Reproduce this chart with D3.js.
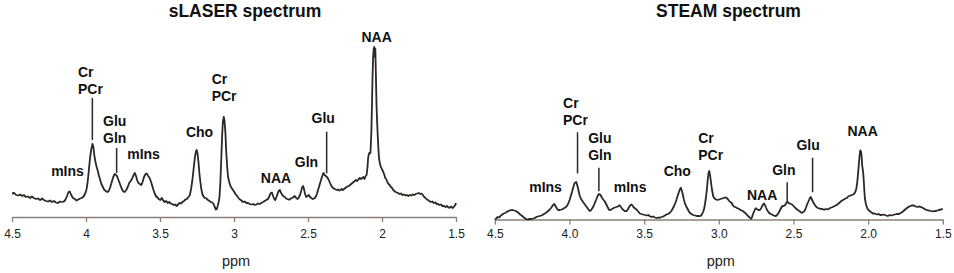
<!DOCTYPE html>
<html><head><meta charset="utf-8">
<script src="https://cdn.jsdelivr.net/npm/d3@7"></script>
<style>body{margin:0;background:#fff}svg{display:block}</style>
</head><body><svg id="c" width="954" height="273"></svg>
<script>
// ---------------- data ----------------
const ppmTicks = [4.5, 4, 3.5, 3, 2.5, 2, 1.5];
const titles = ["sLASER spectrum", "STEAM spectrum"];
const axisTitle = "ppm";

// [ppm, intensity (a.u.)]
const slaser = [[4.500,23.5],[4.485,24],[4.472,22],[4.459,21.5],[4.445,22.5],[4.432,21],[4.420,22],[4.406,20],[4.392,20.5],[4.378,19],[4.365,20.5],[4.352,19],[4.338,18],[4.324,18.5],[4.310,17],[4.297,18.5],[4.284,17],[4.270,16],[4.257,15.5],[4.243,16.5],[4.230,15],[4.216,16],[4.203,14.5],[4.189,14],[4.176,15.5],[4.162,15],[4.150,15.5],[4.140,17],[4.128,21],[4.118,25],[4.110,25.5],[4.100,22],[4.088,19],[4.076,18],[4.064,16.5],[4.052,17.5],[4.040,18.5],[4.028,19],[4.014,21],[4.004,24],[3.996,28],[3.988,36],[3.980,48],[3.972,60],[3.964,68],[3.956,73],[3.950,70],[3.944,62],[3.936,55],[3.928,50],[3.920,46],[3.912,41],[3.904,37],[3.896,33],[3.886,30],[3.876,27],[3.866,26],[3.856,25],[3.846,26],[3.836,30],[3.826,35],[3.816,40],[3.806,43],[3.798,42.5],[3.788,40],[3.778,36],[3.768,32],[3.758,28],[3.748,25.5],[3.738,25],[3.728,27],[3.718,30],[3.708,34],[3.698,36],[3.688,38.5],[3.678,42],[3.670,44],[3.662,41],[3.655,37],[3.646,34],[3.636,33],[3.626,32],[3.618,35],[3.608,40],[3.598,43],[3.590,43.5],[3.580,41],[3.570,39],[3.560,35],[3.552,31],[3.544,27],[3.536,23.5],[3.528,21],[3.518,19.5],[3.508,18],[3.498,17],[3.488,19],[3.478,16.5],[3.468,15],[3.458,16],[3.448,14],[3.438,15],[3.428,13.5],[3.418,13],[3.408,12],[3.398,12.5],[3.388,11],[3.378,12.5],[3.368,14],[3.358,13.5],[3.348,15],[3.338,16],[3.328,17.5],[3.318,18],[3.308,20],[3.298,22],[3.290,28],[3.282,36],[3.276,44],[3.270,52],[3.263,61],[3.256,66],[3.252,67],[3.246,63],[3.240,55],[3.234,44],[3.228,36],[3.222,29],[3.214,23],[3.206,20.5],[3.196,19],[3.186,18.5],[3.176,17],[3.166,16],[3.156,15],[3.146,14.5],[3.138,13],[3.130,10],[3.122,7.5],[3.116,8],[3.110,11],[3.104,15],[3.098,20],[3.092,35],[3.086,58],[3.080,82],[3.075,95],[3.069,100],[3.064,96],[3.058,84],[3.052,64],[3.046,50],[3.040,40],[3.032,35],[3.024,31],[3.016,29],[3.007,27],[2.998,25],[2.990,23],[2.984,22],[2.972,19.5],[2.960,17.5],[2.950,16.5],[2.939,15],[2.928,15.5],[2.916,14],[2.905,14],[2.894,13],[2.882,12.5],[2.870,13],[2.860,12],[2.849,12.5],[2.838,13.5],[2.826,13],[2.816,14],[2.804,15],[2.793,16],[2.782,17],[2.770,18],[2.760,21],[2.752,24],[2.744,24.5],[2.736,21],[2.728,18],[2.721,17],[2.713,20],[2.704,24],[2.696,26.5],[2.690,27],[2.682,24],[2.673,22],[2.665,20.5],[2.657,20],[2.648,18.5],[2.640,18],[2.632,17.5],[2.624,17.5],[2.616,18.5],[2.607,19],[2.598,20],[2.590,21],[2.580,19],[2.570,18],[2.562,19.5],[2.554,22],[2.546,26],[2.539,30],[2.533,31],[2.527,28],[2.520,23],[2.512,20],[2.503,21],[2.494,22],[2.486,20],[2.478,19],[2.468,18],[2.458,18.5],[2.448,20],[2.440,23],[2.432,27],[2.424,31],[2.416,35],[2.408,39],[2.400,42.5],[2.394,44],[2.388,42],[2.380,41],[2.372,40],[2.363,38],[2.354,35],[2.345,32],[2.337,30],[2.330,29],[2.320,28],[2.312,27.5],[2.304,27],[2.296,27.5],[2.288,26.5],[2.280,27],[2.272,28],[2.264,27],[2.256,28],[2.248,29],[2.240,30],[2.232,30.5],[2.224,31],[2.216,32],[2.208,33],[2.200,34],[2.192,35],[2.184,36],[2.176,37],[2.168,36],[2.160,37.5],[2.150,39],[2.142,38],[2.134,39],[2.126,40],[2.118,38],[2.110,41],[2.104,42],[2.098,50],[2.093,60],[2.086,64],[2.078,64],[2.072,85],[2.068,110],[2.064,140],[2.060,160],[2.056,168],[2.052,170],[2.048,160],[2.045,168],[2.041,140],[2.037,112],[2.033,95],[2.029,82],[2.025,70],[2.021,60],[2.016,55],[2.010,51],[2.004,49],[1.998,47],[1.991,45],[1.984,42],[1.978,39],[1.972,38],[1.964,35],[1.956,33],[1.948,32],[1.940,30],[1.932,29],[1.924,27],[1.916,26],[1.908,25],[1.900,24.5],[1.892,24],[1.882,23],[1.872,23.5],[1.862,22],[1.852,22.5],[1.842,21.5],[1.832,22],[1.822,21],[1.812,22],[1.802,21.5],[1.792,22.5],[1.782,22],[1.772,23],[1.762,23.5],[1.752,24],[1.742,23],[1.733,23.5],[1.724,22],[1.715,20],[1.706,19],[1.697,17.5],[1.689,17],[1.680,16],[1.670,15],[1.660,15.5],[1.650,14],[1.640,14.5],[1.630,13],[1.622,13],[1.612,12],[1.602,12.5],[1.592,11],[1.581,11],[1.571,10],[1.561,11],[1.551,9.5],[1.541,9.5],[1.532,10.5],[1.524,9],[1.515,10],[1.508,11.5],[1.502,13],[1.500,14]];

const steam = [[4.500,0],[4.490,1],[4.480,2.5],[4.470,2],[4.460,4],[4.450,5],[4.440,6],[4.430,6.5],[4.420,7.5],[4.410,8.5],[4.400,9],[4.390,9.3],[4.380,9.5],[4.370,9],[4.360,8.5],[4.350,7.5],[4.340,6.5],[4.330,5],[4.320,4],[4.310,2.5],[4.300,1.5],[4.292,0.5],[4.280,0],[4.266,0.5],[4.255,0.5],[4.243,1],[4.232,1.5],[4.222,2.5],[4.212,3],[4.200,3.5],[4.187,4],[4.176,5],[4.165,6],[4.155,7],[4.143,8.5],[4.132,10],[4.121,12],[4.110,14.5],[4.101,15.5],[4.092,13],[4.084,11],[4.076,9.5],[4.064,9.5],[4.051,10],[4.040,11],[4.031,11.7],[4.020,13],[4.011,15],[4.004,17.5],[3.998,20],[3.990,24],[3.982,28],[3.975,32],[3.968,35.5],[3.962,37],[3.955,37.5],[3.949,35],[3.944,32],[3.938,28],[3.931,23.5],[3.922,20.5],[3.911,18],[3.904,16.5],[3.897,15],[3.887,13],[3.877,11],[3.870,9.5],[3.864,8.5],[3.855,9.5],[3.844,12],[3.837,14],[3.830,16.7],[3.822,19.5],[3.813,23],[3.806,25],[3.800,25.5],[3.792,24.5],[3.783,22],[3.774,20],[3.763,18],[3.753,15],[3.743,12],[3.736,10],[3.730,9.3],[3.720,10],[3.710,11],[3.703,11.5],[3.696,12],[3.686,12.5],[3.676,13],[3.668,14],[3.663,14],[3.653,12],[3.643,10],[3.630,8.5],[3.618,8.3],[3.610,10],[3.602,12],[3.594,14],[3.584,15],[3.576,13.5],[3.569,12],[3.560,11],[3.551,10],[3.540,8],[3.529,6],[3.518,5.5],[3.507,5],[3.495,4.5],[3.482,4],[3.472,4.5],[3.462,3.3],[3.450,2.5],[3.439,3],[3.428,2],[3.416,1.5],[3.405,2],[3.395,1.7],[3.383,2.5],[3.372,3],[3.361,4],[3.350,5],[3.340,5.5],[3.328,6.7],[3.318,8.5],[3.308,11],[3.298,14],[3.290,17],[3.283,20],[3.275,24],[3.268,27],[3.261,30],[3.254,31.7],[3.248,29],[3.241,25],[3.234,20],[3.228,16.7],[3.218,13],[3.207,10],[3.200,8],[3.194,6.7],[3.184,5.5],[3.172,4.5],[3.160,4],[3.148,3.5],[3.138,3.5],[3.127,3.3],[3.118,4],[3.110,6],[3.104,8],[3.098,11],[3.093,15],[3.086,22],[3.080,30],[3.074,40],[3.068,47],[3.064,48.5],[3.058,44],[3.053,38],[3.046,30],[3.037,23],[3.028,21],[3.019,20],[3.008,19.5],[2.998,20],[2.988,20.5],[2.978,21],[2.968,21.5],[2.958,22],[2.948,21.7],[2.940,20.5],[2.933,19],[2.924,17.5],[2.915,16.7],[2.907,14.5],[2.899,13],[2.890,12.5],[2.881,11.7],[2.870,11],[2.859,10],[2.848,9],[2.837,8.3],[2.828,7],[2.819,6],[2.811,4.5],[2.803,3.3],[2.793,2],[2.785,0.7],[2.778,2],[2.772,5],[2.764,8],[2.755,11],[2.748,11],[2.742,10],[2.734,9.5],[2.725,9.5],[2.717,11],[2.711,13],[2.704,15],[2.698,16],[2.691,14.5],[2.684,12],[2.675,9],[2.664,6.7],[2.654,5.5],[2.644,5],[2.632,4],[2.620,3.3],[2.610,4.5],[2.598,7],[2.588,10],[2.576,13.3],[2.567,13.5],[2.558,14],[2.550,16],[2.542,17.7],[2.535,17],[2.527,16],[2.518,15.5],[2.509,15],[2.500,13.5],[2.491,12],[2.483,11],[2.475,10],[2.466,9],[2.457,8],[2.449,7],[2.442,6.7],[2.433,7.5],[2.424,9],[2.416,12],[2.409,15],[2.403,17],[2.397,19],[2.391,21],[2.385,22.5],[2.378,20.5],[2.370,18],[2.361,15.5],[2.351,13.3],[2.343,12],[2.336,11.5],[2.327,11],[2.318,10.7],[2.309,10.5],[2.300,10],[2.290,10],[2.281,10.5],[2.272,10],[2.263,10.7],[2.254,11.5],[2.245,12],[2.236,12.5],[2.226,13.5],[2.216,14],[2.207,15],[2.198,16],[2.190,17],[2.183,18],[2.175,19],[2.168,19.5],[2.162,20],[2.152,21],[2.142,21.5],[2.134,23],[2.126,23.5],[2.118,24],[2.110,24.5],[2.100,25],[2.092,26],[2.084,28.3],[2.079,31],[2.075,35],[2.071,40],[2.067,46.7],[2.062,56],[2.057,64],[2.053,69],[2.050,67],[2.047,68],[2.043,62],[2.040,54],[2.036,50],[2.033,46.7],[2.029,38],[2.025,28],[2.022,22],[2.017,17],[2.012,14],[2.005,11],[1.998,9.5],[1.988,8.3],[1.978,7],[1.968,6],[1.958,6],[1.949,5.5],[1.940,5],[1.930,5.5],[1.920,4.5],[1.908,4.5],[1.895,5],[1.881,4],[1.868,3.5],[1.856,4.5],[1.845,4],[1.833,4.5],[1.821,5],[1.808,5.5],[1.794,5.5],[1.781,6.5],[1.767,8],[1.752,10],[1.738,11.7],[1.724,13],[1.709,14],[1.694,14],[1.682,13],[1.670,12.5],[1.659,13],[1.649,12.7],[1.638,12],[1.627,11],[1.616,10],[1.604,9.3],[1.592,9],[1.580,8.5],[1.568,8],[1.558,8.5],[1.548,8.3],[1.537,9],[1.526,9.5],[1.512,10],[1.500,10.7]];

// peak labels: text lines, anchor ppm, baseline intensity of first line
const slaserLabels = [
  {lines:["mIns"], ppm:4.125, h:41, anchor:"middle"},
  {lines:["Cr","PCr"], ppm:4.054, h:139.7, anchor:"start"},
  {lines:["Glu","Gln"], ppm:3.885, h:91, anchor:"start"},
  {lines:["mIns"], ppm:3.611, h:57.7, anchor:"middle"},
  {lines:["Cho"], ppm:3.233, h:80.3, anchor:"middle"},
  {lines:["Cr","PCr"], ppm:3.151, h:132.7, anchor:"start"},
  {lines:["NAA"], ppm:2.716, h:33.7, anchor:"middle"},
  {lines:["Gln"], ppm:2.510, h:50.3, anchor:"middle"},
  {lines:["Glu"], ppm:2.397, h:94.3, anchor:"middle"},
  {lines:["NAA"], ppm:2.036, h:175.3, anchor:"middle"}
];
const slaserLeaders = [
  {ppm:3.957, top:119, bottom:77},
  {ppm:3.793, top:69, bottom:44},
  {ppm:2.374, top:85.3, bottom:43.7}
];
const steamLabels = [
  {lines:["mIns"], ppm:4.160, h:27.3, anchor:"middle"},
  {lines:["Cr","PCr"], ppm:4.043, h:111.7, anchor:"start"},
  {lines:["Glu","Gln"], ppm:3.875, h:76.7, anchor:"start"},
  {lines:["mIns"], ppm:3.594, h:27.3, anchor:"middle"},
  {lines:["Cho"], ppm:3.278, h:44, anchor:"middle"},
  {lines:["Cr","PCr"], ppm:3.138, h:76.7, anchor:"start"},
  {lines:["NAA"], ppm:2.710, h:20, anchor:"middle"},
  {lines:["Gln"], ppm:2.564, h:45, anchor:"middle"},
  {lines:["Glu"], ppm:2.402, h:70, anchor:"middle"},
  {lines:["NAA"], ppm:2.037, h:83.3, anchor:"middle"}
];
const steamLeaders = [
  {ppm:3.946, top:87.3, bottom:46},
  {ppm:3.803, top:51.7, bottom:28.3},
  {ppm:2.542, top:37.3, bottom:18.3},
  {ppm:2.372, top:61.7, bottom:27.3}
];

// ---------------- drawing ----------------
const svg = d3.select("#c");
const FONT = "'Liberation Sans', Arial, Helvetica, sans-serif";

const panels = [
  {title:titles[0], data:slaser, labels:slaserLabels, leaders:slaserLeaders,
   x0:12, x1:456, axisY:217, titleX:245, fmt:d3.format(""), pad:7},
  {title:titles[1], data:steam, labels:steamLabels, leaders:steamLeaders,
   x0:494.8, x1:942.8, axisY:219.5, titleX:728.5, fmt:d3.format(".1f"), pad:5}
];

panels.forEach(p => {
  const x = d3.scaleLinear().domain([4.5, 1.5]).range([p.x0, p.x1]);
  const y = d3.scaleLinear().domain([0, 200]).range([p.axisY, p.axisY - 200]);
  const g = svg.append("g");

  // axis
  const ax = g.append("g")
    .attr("transform", `translate(0,${p.axisY})`)
    .call(d3.axisBottom(x).tickValues(ppmTicks).tickFormat(p.fmt)
      .tickSize(5).tickSizeOuter(0).tickPadding(p.pad));
  ax.select(".domain").attr("stroke", "#8a8078").attr("stroke-width", 1.3);
  ax.selectAll(".tick line").attr("stroke", "#8a8078").attr("stroke-width", 1.3);
  ax.selectAll(".tick text").attr("fill", "#222").style("font-family", FONT).style("font-size", "12px");

  g.append("text")
    .attr("x", (p.x0 + p.x1) / 2 + 2).attr("y", 265.5)
    .attr("text-anchor", "middle")
    .style("font-family", FONT).style("font-size", "14.5px").attr("fill", "#222")
    .text(axisTitle);

  // title
  g.append("text")
    .attr("x", p.titleX).attr("y", 16.5)
    .attr("text-anchor", "middle")
    .style("font-family", FONT).style("font-size", "17.5px").style("font-weight", "bold")
    .attr("fill", "#111")
    .text(p.title);

  // spectrum
  const line = d3.line().x(d => x(d[0])).y(d => y(d[1]));
  g.append("path").datum(p.data)
    .attr("d", line)
    .attr("fill", "none").attr("stroke", "#2e2722").attr("stroke-width", 1.8)
    .attr("stroke-linejoin", "round");

  // leaders
  g.selectAll(".leader").data(p.leaders).join("line")
    .attr("x1", d => x(d.ppm)).attr("x2", d => x(d.ppm))
    .attr("y1", d => y(d.top)).attr("y2", d => y(d.bottom))
    .attr("stroke", "#2a2a2a").attr("stroke-width", 1.5);

  // labels
  p.labels.forEach(l => {
    l.lines.forEach((t, i) => {
      g.append("text")
        .attr("x", x(l.ppm)).attr("y", y(l.h) + i * 17)
        .attr("text-anchor", l.anchor)
        .style("font-family", FONT).style("font-size", "14px").style("font-weight", "bold")
        .attr("fill", "#111")
        .text(t);
    });
  });
});
</script></body></html>
